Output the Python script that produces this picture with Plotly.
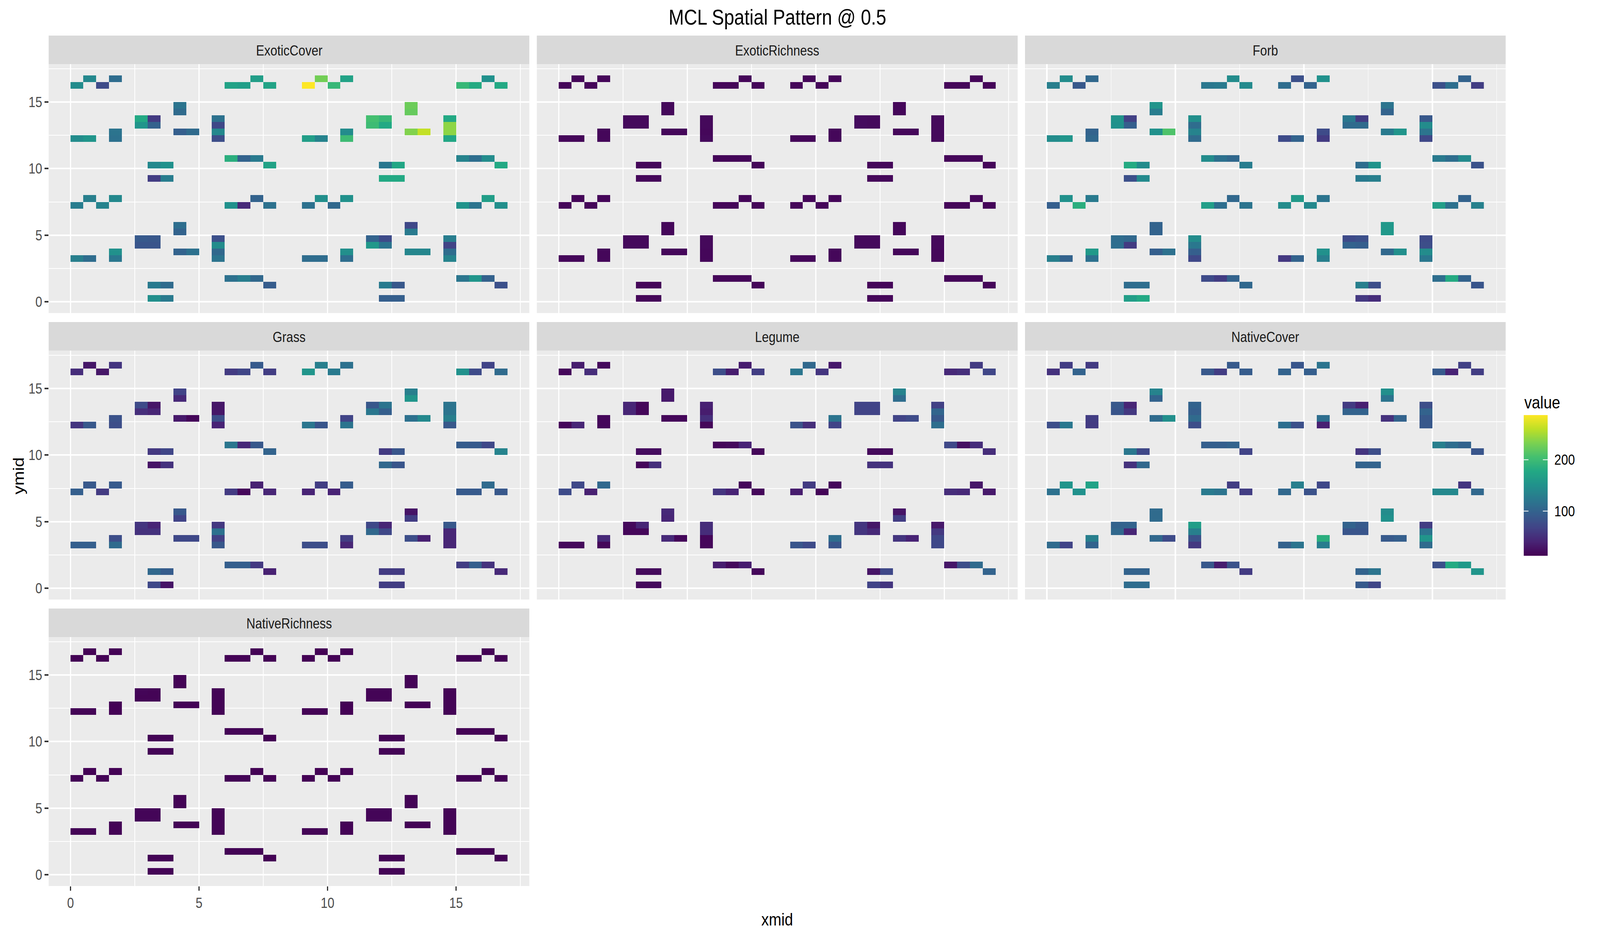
import numpy as np
import plotly.graph_objects as go

panel_names = ["ExoticCover", "ExoticRichness", "Forb", "Grass", "Legume", "NativeCover", "NativeRichness"]

ymid_rows = [16.75, 16.25, 14.75, 14.25, 13.75, 13.25, 12.75, 12.25, 10.75, 10.25, 9.25,
             7.75, 7.25, 5.75, 5.25, 4.75, 4.25, 3.75, 3.25, 1.75, 1.25, 0.25]
xmid_rows = [
    [0.75, 1.75, 7.25, 9.75, 10.75, 16.25],
    [0.25, 1.25, 6.25, 6.75, 7.75, 9.25, 10.25, 15.25, 15.75, 16.75],
    [4.25, 13.25],
    [4.25, 13.25],
    [2.75, 3.25, 5.75, 11.75, 12.25, 14.75],
    [2.75, 3.25, 5.75, 11.75, 12.25, 14.75],
    [1.75, 4.25, 4.75, 5.75, 10.75, 13.25, 13.75, 14.75],
    [0.25, 0.75, 1.75, 5.75, 9.25, 9.75, 10.75, 14.75],
    [6.25, 6.75, 7.25, 15.25, 15.75, 16.25],
    [3.25, 3.75, 7.75, 12.25, 12.75, 16.75],
    [3.25, 3.75, 12.25, 12.75],
    [0.75, 1.75, 7.25, 9.75, 10.75, 16.25],
    [0.25, 1.25, 6.25, 6.75, 7.75, 9.25, 10.25, 15.25, 15.75, 16.75],
    [4.25, 13.25],
    [4.25, 13.25],
    [2.75, 3.25, 5.75, 11.75, 12.25, 14.75],
    [2.75, 3.25, 5.75, 11.75, 12.25, 14.75],
    [1.75, 4.25, 4.75, 5.75, 10.75, 13.25, 13.75, 14.75],
    [0.25, 0.75, 1.75, 5.75, 9.25, 9.75, 10.75, 14.75],
    [6.25, 6.75, 7.25, 15.25, 15.75, 16.25],
    [3.25, 3.75, 7.75, 12.25, 12.75, 16.75],
    [3.25, 3.75, 12.25, 12.75],
]

exotic_cover = [
    140, 110, 165, 228, 170, 150,
    145, 75, 170, 165, 172, 287, 195, 195, 180, 178,
    118, 225,
    108, 222,
    178, 60, 115, 205, 195, 178,
    155, 98, 72, 200, 178, 240,
    118, 95, 108, 140, 145, 235, 262, 240,
    145, 155, 115, 78, 165, 135, 200, 175,
    185, 100, 125, 135, 112, 145,
    140, 150, 170, 122, 175, 178,
    62, 128, 178, 178,
    130, 140, 100, 148, 150, 165,
    128, 135, 150, 45, 115, 115, 105, 152, 118, 148,
    112, 72,
    100, 125,
    90, 88, 80, 100, 75, 128,
    85, 85, 145, 158, 118, 68,
    150, 100, 115, 105, 148, 138, 138, 110,
    130, 110, 122, 118, 110, 110, 112, 135,
    115, 128, 105, 120, 155, 98,
    125, 108, 92, 125, 88, 80,
    148, 125, 95, 95,
]
forb = [
    145, 105, 145, 80, 150, 100,
    130, 88, 122, 125, 142, 110, 100, 80, 112, 62,
    155, 118,
    128, 100,
    152, 65, 148, 122, 62, 88,
    150, 95, 110, 108, 108, 145,
    100, 150, 210, 135, 75, 125, 155, 118,
    145, 155, 105, 108, 75, 100, 60, 72,
    145, 115, 105, 125, 112, 142,
    180, 145, 128, 110, 152, 82,
    80, 142, 125, 130,
    150, 125, 105, 160, 118, 100,
    95, 185, 165, 112, 118, 145, 140, 165, 115, 132,
    100, 158,
    100, 158,
    110, 105, 145, 75, 80, 75,
    112, 60, 122, 100, 95, 78,
    160, 95, 115, 95, 150, 105, 148, 145,
    130, 100, 115, 72, 58, 100, 130, 122,
    75, 62, 100, 112, 180, 100,
    110, 112, 105, 130, 78, 85,
    165, 178, 58, 48,
]
grass = [
    30, 55, 90, 130, 115, 68,
    48, 30, 60, 70, 62, 155, 125, 150, 75, 108,
    68, 130,
    45, 155,
    75, 30, 30, 88, 118, 118,
    50, 42, 30, 122, 95, 118,
    82, 32, 18, 78, 68, 115, 140, 130,
    55, 88, 78, 40, 120, 85, 118, 88,
    120, 45, 88, 92, 90, 72,
    58, 70, 100, 60, 85, 135,
    28, 52, 105, 85,
    88, 90, 38, 62, 92, 108,
    95, 60, 60, 18, 42, 40, 40, 90, 90, 88,
    88, 28,
    68, 62,
    55, 42, 58, 72, 42, 88,
    52, 52, 115, 105, 72, 42,
    78, 72, 72, 65, 62, 78, 38, 42,
    95, 95, 108, 88, 78, 78, 42, 42,
    95, 95, 58, 62, 95, 52,
    105, 92, 38, 60, 60, 45,
    72, 28, 62, 62,
]
legume = [
    35, 20, 35, 105, 32, 60,
    18, 48, 78, 35, 62, 120, 55, 45, 50, 70,
    32, 135,
    32, 110,
    42, 18, 38, 68, 68, 65,
    42, 18, 35, 68, 68, 102,
    18, 18, 18, 50, 118, 68, 75, 88,
    18, 42, 18, 18, 82, 50, 68, 112,
    18, 20, 40, 72, 25, 48,
    22, 22, 18, 20, 20, 48,
    18, 50, 52, 52,
    72, 105, 18, 60, 18, 30,
    75, 38, 55, 40, 18, 35, 16, 48, 45, 32,
    45, 28,
    42, 62,
    20, 42, 48, 55, 30, 32,
    18, 18, 48, 55, 45, 58,
    45, 45, 18, 18, 110, 55, 40, 72,
    20, 20, 18, 18, 85, 75, 85, 72,
    35, 20, 35, 30, 78, 108,
    20, 20, 18, 28, 72, 100,
    20, 20, 68, 55,
]
native_cover = [
    62, 60, 90, 85, 118, 65,
    52, 100, 88, 62, 92, 100, 95, 90, 40, 62,
    135, 148,
    100, 118,
    88, 42, 100, 60, 38, 78,
    85, 58, 95, 100, 100, 100,
    62, 108, 148, 108, 112, 52, 100, 88,
    78, 122, 60, 78, 112, 80, 38, 88,
    95, 95, 100, 130, 110, 100,
    122, 72, 68, 55, 78, 85,
    52, 105, 100, 100,
    155, 170, 62, 130, 72, 55,
    115, 150, 125, 118, 62, 105, 82, 140, 140, 105,
    108, 145,
    108, 150,
    100, 100, 165, 100, 90, 62,
    105, 42, 130, 85, 85, 118,
    130, 105, 75, 82, 185, 90, 95, 155,
    108, 68, 100, 58, 98, 118, 128, 108,
    88, 35, 82, 80, 180, 160,
    100, 100, 60, 100, 118, 155,
    110, 110, 90, 70,
]
exotic_richness = [
    17, 17, 17, 17, 17, 17,
    17, 17, 17, 17, 17, 17, 17, 17, 17, 17,
    19, 18,
    19, 18,
    20, 20, 19, 21, 20, 19,
    20, 20, 19, 21, 20, 19,
    18, 18, 18, 18, 18, 18, 18, 19,
    17, 17, 18, 20, 17, 17, 18, 19,
    16, 16, 17, 17, 18, 17,
    18, 18, 17, 18, 18, 17,
    18, 18, 18, 18,
    17, 17, 17, 17, 17, 17,
    17, 17, 17, 17, 17, 17, 17, 17, 17, 17,
    18, 18,
    18, 18,
    20, 20, 19, 20, 20, 19,
    20, 20, 19, 20, 20, 19,
    18, 18, 18, 18, 18, 18, 18, 18,
    18, 18, 18, 18, 18, 18, 18, 18,
    17, 17, 17, 17, 17, 17,
    17, 17, 17, 17, 17, 17,
    17, 17, 17, 17,
]
native_richness = [
    14, 14, 14, 14, 14, 14,
    14, 14, 14, 14, 14, 14, 14, 14, 14, 14,
    15, 15,
    15, 15,
    16, 15, 15, 15, 15, 15,
    15, 15, 15, 15, 15, 15,
    14, 15, 15, 15, 14, 15, 15, 15,
    15, 15, 14, 15, 14, 14, 14, 15,
    15, 15, 15, 14, 14, 14,
    15, 15, 14, 15, 15, 14,
    15, 15, 15, 15,
    14, 14, 14, 14, 14, 14,
    15, 15, 15, 15, 14, 14, 14, 14, 14, 14,
    15, 15,
    15, 15,
    16, 16, 15, 16, 16, 15,
    16, 16, 15, 16, 16, 15,
    15, 15, 15, 15, 15, 15, 15, 15,
    15, 15, 15, 15, 15, 15, 15, 15,
    15, 15, 15, 14, 14, 14,
    15, 15, 14, 15, 15, 14,
    15, 15, 15, 15,
]
panel_values = [exotic_cover, exotic_richness, forb, grass, legume, native_cover, native_richness]

value_min, value_max = 13, 287
legend_ticks = [100, 200]

viridis = ["#440154", "#482475", "#414487", "#355F8D", "#2A788E", "#21918C",
           "#22A884", "#44BF70", "#7AD151", "#BDDF26", "#FDE725"]
colorscale = [[i / 10, c] for i, c in enumerate(viridis)]

W, H = 4800, 2400
col_px = [(146, 1588), (1610.5, 3053), (3075, 4517)]
row_px = [(164, 801), (897, 1534), (1630, 2267)]
strip_h = 73
grid_centres = np.arange(0.25, 17, 0.5)
fx = lambda p: p / W
fy = lambda p: 1 - p / H

fig = go.Figure()
shapes, annots = [], []
layout = {}


def matrix(values):
    assert len(values) == sum(len(r) for r in xmid_rows)
    z = [[None] * len(grid_centres) for _ in grid_centres]
    vals = iter(values)
    for ym, xs in zip(ymid_rows, xmid_rows):
        for xm in xs:
            z[int(ym * 2)][int(xm * 2)] = next(vals)
    return z


for i, (name, vals) in enumerate(zip(panel_names, panel_values)):
    r, c = divmod(i, 3)
    n = "" if i == 0 else str(i + 1)
    x0, x1 = col_px[c]
    y0, y1 = row_px[r]
    fig.add_trace(go.Heatmap(x=grid_centres, y=grid_centres, z=matrix(vals), coloraxis="coloraxis",
                             xaxis=f"x{n}", yaxis=f"y{n}", hoverongaps=False, xgap=0, ygap=0))
    common = dict(range=[-0.85, 17.85], showgrid=True, gridcolor="white", gridwidth=3.6,
                  zeroline=False, showline=False, tick0=0, dtick=5, tickcolor="#333333", tickwidth=4,
                  ticklen=11, tickfont=dict(family="Liberation Sans", size=37, color="#4D4D4D"),
                  minor=dict(tick0=2.5, dtick=5, showgrid=True, gridcolor="white", gridwidth=1.8, ticks=""))
    layout[f"xaxis{n}"] = dict(common, domain=[fx(x0), fx(x1)], anchor=f"y{n}",
                               ticks="outside" if r == 2 else "", showticklabels=r == 2)
    layout[f"yaxis{n}"] = dict(common, domain=[fy(y1), fy(y0)], anchor=f"x{n}",
                               ticks="outside" if c == 0 else "", showticklabels=c == 0)
    shapes.append(dict(type="rect", xref="paper", yref="paper", x0=fx(x0), x1=fx(x1),
                       y0=fy(y0), y1=fy(y0 - strip_h), fillcolor="#D9D9D9", line_width=0))
    annots.append(dict(text=name, xref="paper", yref="paper", x=fx((x0 + x1) / 2), y=fy(y0 - strip_h / 2 + 2),
                       showarrow=False, xanchor="center", yanchor="middle",
                       font=dict(family="Liberation Sans", size=37, color="#1A1A1A")))

# legend bar: its own small subplot, so that white ticks can lie on both of its sides
bar_x0, bar_x1 = 4571, 4643
bar_top, bar_bot = 1062, 1422
legend_levels = np.linspace(value_min, value_max, 256)
fig.add_trace(go.Heatmap(x=[0], y=legend_levels, z=[[v] for v in legend_levels], coloraxis="coloraxis",
                         xaxis="x8", yaxis="y8", hoverinfo="skip"))
layout["xaxis8"] = dict(domain=[fx(bar_x0), fx(bar_x1)], anchor="y8", range=[-0.5, 0.5], visible=False)
layout["yaxis8"] = dict(domain=[fy(bar_bot), fy(bar_top)], anchor="x8", side="right",
                        range=[value_min, value_max], tickvals=legend_ticks, showgrid=False,
                        zeroline=False, showline=False, ticks="", ticklabelstandoff=19,
                        tickfont=dict(family="Liberation Sans", size=37, color="black"))
for v in legend_ticks:
    for a, b in [(0, 0.2), (0.8, 1)]:
        shapes.append(dict(type="line", xref="x8 domain", yref="y8", x0=a, x1=b, y0=v, y1=v,
                           line=dict(color="white", width=2), layer="above"))

annots += [
    dict(text="MCL Spatial Pattern @ 0.5", xref="paper", yref="paper", x=fx(2332), y=fy(44), showarrow=False,
         xanchor="center", yanchor="middle", font=dict(family="Liberation Sans", size=55, color="black")),
    dict(text="xmid", xref="paper", yref="paper", x=fx(2331), y=fy(2352), showarrow=False,
         xanchor="center", yanchor="middle", font=dict(family="Liberation Sans", size=45, color="black")),
    dict(text="ymid", xref="paper", yref="paper", x=fx(55), y=fy(1217), showarrow=False, textangle=-90,
         xanchor="center", yanchor="middle", font=dict(family="Liberation Sans", size=45, color="black")),
    dict(text="value", xref="paper", yref="paper", x=fx(bar_x0), y=fy(1029), showarrow=False,
         xanchor="left", yanchor="middle", font=dict(family="Liberation Sans", size=45, color="black")),
]

fig.update_layout(
    width=W, height=H, autosize=False, margin=dict(l=0, r=0, t=0, b=0), paper_bgcolor="white",
    plot_bgcolor="#EBEBEB", showlegend=False, shapes=shapes, annotations=annots,
    coloraxis=dict(cmin=value_min, cmax=value_max, colorscale=colorscale, showscale=False),
    **layout,
)
# The page may be given a narrower window than the 4800x2400 figure: fit the whole figure into it.
fit_to_window = """
document.documentElement.style.overflow='hidden';
document.body.style.overflow='hidden';
document.body.style.margin='0';
var g=document.getElementById('{plot_id}');
g.style.transformOrigin='0 0';
g.style.transform='scale('+(window.innerWidth/4800)+','+(window.innerHeight/2400)+')';
"""
fig.write_html("out.html", config={"displayModeBar": False}, post_script=fit_to_window)
